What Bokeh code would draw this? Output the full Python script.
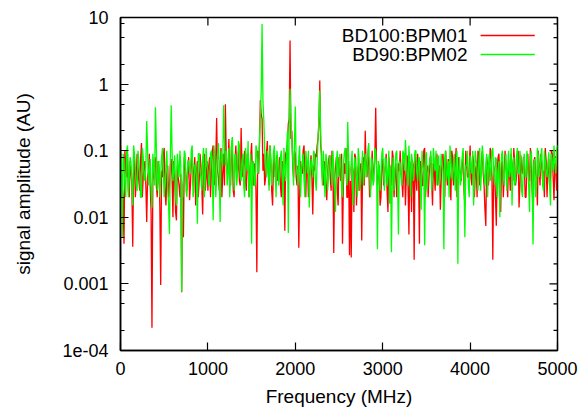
import math
from bokeh.plotting import figure
from bokeh.models import Range1d, FixedTicker, CustomJSTickFormatter, Label
from bokeh.embed import file_html
from bokeh.resources import INLINE

# ---------------- data ----------------
series_names = ["BD100:BPM01", "BD90:BPM02"]
freq_step = 10  # MHz sampling grid
freq = [i * freq_step for i in range(501)]  # 0 .. 5000 MHz

# samples at 0, 20, 40, ... 5000 MHz
bpm01_a = [
    0.12, 0.03, 0.004, 0.06, 0.09, 0.02, 0.05, 0.0036, 0.08, 0.035,
    0.06, 0.025, 0.13, 0.04, 0.07, 0.0085, 0.05, 0.03, 0.00022, 0.045,
    0.08, 0.02, 0.055, 0.00096, 0.04, 0.11, 0.015, 0.06, 0.03, 0.075,
    0.01, 0.05, 0.009, 0.04, 0.02, 0.00075, 0.005, 0.06, 0.025, 0.08,
    0.03, 0.1, 0.045, 0.015, 0.07, 0.035, 0.06, 0.011, 0.09, 0.04,
    0.025, 0.08, 0.05, 0.12, 0.03, 0.31, 0.04, 0.07, 0.02, 0.09,
    0.5, 0.045, 0.15, 0.03, 0.085, 0.02, 0.12, 0.05, 0.035, 0.22,
    0.04, 0.1, 0.025, 0.075, 0.05, 0.13, 0.03, 0.065, 0.0015, 0.045,
    0.57, 0.3, 0.09, 0.04, 0.14, 0.03, 0.07, 0.015, 0.1, 0.05,
    0.035, 0.08, 0.02, 0.06, 0.0063, 0.1, 0.25, 4.5, 0.2, 0.04,
    0.09, 0.03, 0.0035, 0.07, 0.045, 0.12, 0.02, 0.06, 0.035, 0.085,
    0.011, 0.05, 0.08, 0.15, 1.13, 0.09, 0.03, 0.06, 0.018, 0.07,
    0.04, 0.1, 0.0029, 0.055, 0.025, 0.08, 0.035, 0.004, 0.065, 0.11,
    0.02, 0.0027, 0.0025, 0.05, 0.09, 0.015, 0.06, 0.03, 0.0045, 0.08,
    0.2, 0.04, 0.07, 0.025, 0.1, 0.05, 0.44, 0.03, 0.06, 0.02,
    0.075, 0.04, 0.09, 0.012, 0.055, 0.03, 0.08, 0.045, 0.02, 0.065,
    0.1, 0.035, 0.06, 0.015, 0.085, 0.0055, 0.05, 0.07, 0.0023, 0.04,
    0.09, 0.004, 0.06, 0.03, 0.11, 0.045, 0.02, 0.075, 0.035, 0.065,
    0.025, 0.09, 0.05, 0.013, 0.07, 0.04, 0.1, 0.03, 0.06, 0.018,
    0.08, 0.045, 0.11, 0.025, 0.055, 0.035, 0.09, 0.015, 0.065, 0.04,
    0.12, 0.03, 0.07, 0.05, 0.02, 0.085, 0.04, 0.1, 0.03, 0.0074,
    0.06, 0.045, 0.09, 0.0023, 0.05, 0.0075, 0.08, 0.035, 0.065, 0.02,
    0.1, 0.04, 0.075, 0.025, 0.055, 0.11, 0.03, 0.06, 0.014, 0.085,
    0.045, 0.07, 0.02, 0.09, 0.035, 0.06, 0.012, 0.08, 0.04, 0.1,
    0.03, 0.065, 0.05, 0.11, 0.02, 0.075, 0.04, 0.09, 0.018, 0.06,
    0.1,
]
# samples at 10, 30, 50, ... 4990 MHz
bpm01_b = [
    0.05, 0.018, 0.1, 0.04, 0.025, 0.07, 0.03, 0.06, 0.02, 0.09,
    0.035, 0.075, 0.02, 0.055, 0.03, 0.04, 0.09, 0.012, 0.035, 0.06,
    0.03, 0.07, 0.015, 0.05, 0.085, 0.025, 0.045, 0.02, 0.06, 0.04,
    0.07, 0.012, 0.06, 0.03, 0.045, 0.02, 0.08, 0.04, 0.05, 0.018,
    0.065, 0.03, 0.08, 0.05, 0.02, 0.09, 0.03, 0.055, 0.025, 0.07,
    0.06, 0.02, 0.1, 0.04, 0.07, 0.05, 0.025, 0.11, 0.045, 0.03,
    0.08, 0.05, 0.035, 0.12, 0.025, 0.07, 0.04, 0.1, 0.03, 0.06,
    0.07, 0.035, 0.09, 0.02, 0.08, 0.04, 0.06, 0.025, 0.1, 0.12,
    0.35, 0.05, 0.03, 0.09, 0.045, 0.12, 0.025, 0.06, 0.04, 0.085,
    0.05, 0.03, 0.07, 0.04, 0.09, 0.13, 0.3, 0.15, 0.06, 0.1,
    0.04, 0.06, 0.025, 0.05, 0.1, 0.035, 0.07, 0.02, 0.055, 0.04,
    0.06, 0.09, 0.12, 0.25, 0.12, 0.04, 0.07, 0.03, 0.05, 0.085,
    0.025, 0.06, 0.04, 0.08, 0.015, 0.05, 0.09, 0.03, 0.045, 0.02,
    0.07, 0.035, 0.06, 0.012, 0.08, 0.04, 0.025, 0.065, 0.05, 0.03,
    0.06, 0.09, 0.02, 0.05, 0.035, 0.08, 0.06, 0.04, 0.015, 0.07,
    0.03, 0.06, 0.025, 0.08, 0.04, 0.1, 0.02, 0.065, 0.035, 0.05,
    0.045, 0.02, 0.08, 0.04, 0.03, 0.07, 0.012, 0.06, 0.09, 0.025,
    0.05, 0.07, 0.03, 0.1, 0.02, 0.06, 0.04, 0.085, 0.015, 0.05,
    0.07, 0.03, 0.06, 0.04, 0.09, 0.02, 0.055, 0.075, 0.035, 0.1,
    0.03, 0.06, 0.02, 0.08, 0.045, 0.07, 0.025, 0.1, 0.04, 0.055,
    0.04, 0.085, 0.02, 0.06, 0.1, 0.03, 0.07, 0.045, 0.013, 0.08,
    0.03, 0.11, 0.04, 0.06, 0.02, 0.05, 0.09, 0.012, 0.07, 0.04,
    0.06, 0.02, 0.05, 0.09, 0.035, 0.065, 0.04, 0.1, 0.03, 0.05,
    0.08, 0.02, 0.06, 0.04, 0.11, 0.025, 0.07, 0.045, 0.015, 0.06,
    0.09, 0.035, 0.02, 0.07, 0.05, 0.03, 0.1, 0.04, 0.065, 0.025,
]

bpm02_a = [
    0.11, 0.005, 0.07, 0.02, 0.12, 0.04, 0.065, 0.015, 0.09, 0.03,
    0.1, 0.045, 0.02, 0.08, 0.035, 0.28, 0.03, 0.075, 0.014, 0.06,
    0.45, 0.025, 0.07, 0.04, 0.11, 0.02, 0.06, 0.03, 0.0056, 0.48,
    0.035, 0.085, 0.015, 0.06, 0.1, 0.00076, 0.04, 0.09, 0.02, 0.07,
    0.045, 0.12, 0.025, 0.065, 0.008, 0.09, 0.04, 0.075, 0.02, 0.11,
    0.05, 0.03, 0.1, 0.009, 0.07, 0.04, 0.13, 0.0085, 0.08, 0.48,
    0.06, 0.03, 0.11, 0.045, 0.16, 0.025, 0.08, 0.05, 0.12, 0.035,
    0.09, 0.02, 0.065, 0.14, 0.04, 0.004, 0.07, 0.03, 0.1, 0.05,
    0.3, 8.0, 0.28, 0.06, 0.1, 0.025, 0.075, 0.045, 0.12, 0.02,
    0.07, 0.04, 0.1, 0.015, 0.06, 0.09, 0.0058, 0.85, 0.15, 0.03,
    0.46, 0.05, 0.08, 0.02, 0.065, 0.035, 0.1, 0.045, 0.014, 0.075,
    0.04, 0.09, 0.025, 0.15, 0.8, 0.06, 0.1, 0.02, 0.07, 0.04,
    0.085, 0.03, 0.06, 0.012, 0.1, 0.045, 0.07, 0.02, 0.09, 0.05,
    0.27, 0.035, 0.065, 0.015, 0.08, 0.04, 0.11, 0.025, 0.06, 0.03,
    0.09, 0.05, 0.13, 0.02, 0.07, 0.035, 0.1, 0.0033, 0.06, 0.04,
    0.11, 0.025, 0.075, 0.045, 0.016, 0.003, 0.08, 0.05, 0.1, 0.0055,
    0.065, 0.03, 0.09, 0.145, 0.04, 0.12, 0.02, 0.07, 0.05, 0.1,
    0.035, 0.08, 0.013, 0.06, 0.0038, 0.095, 0.045, 0.07, 0.025, 0.11,
    0.05, 0.03, 0.085, 0.04, 0.065, 0.0033, 0.1, 0.045, 0.02, 0.075,
    0.035, 0.09, 0.055, 0.002, 0.08, 0.04, 0.11, 0.005, 0.06, 0.03,
    0.085, 0.045, 0.015, 0.1, 0.05, 0.07, 0.025, 0.12, 0.04, 0.065,
    0.02, 0.09, 0.05, 0.11, 0.03, 0.075, 0.045, 0.01, 0.085, 0.04,
    0.065, 0.025, 0.1, 0.05, 0.015, 0.08, 0.035, 0.11, 0.045, 0.07,
    0.02, 0.09, 0.04, 0.06, 0.012, 0.1, 0.0039, 0.075, 0.03, 0.085,
    0.05, 0.11, 0.025, 0.07, 0.04, 0.095, 0.015, 0.065, 0.12, 0.045,
    0.12,
]
bpm02_b = [
    0.06, 0.09, 0.03, 0.1, 0.02, 0.08, 0.035, 0.12, 0.05, 0.025,
    0.07, 0.02, 0.11, 0.04, 0.06, 0.1, 0.05, 0.025, 0.09, 0.03,
    0.12, 0.04, 0.02, 0.08, 0.05, 0.035, 0.1, 0.015, 0.07, 0.1,
    0.05, 0.02, 0.09, 0.04, 0.06, 0.03, 0.1, 0.025, 0.07, 0.05,
    0.1, 0.02, 0.06, 0.035, 0.09, 0.05, 0.025, 0.11, 0.04, 0.06,
    0.03, 0.09, 0.05, 0.12, 0.02, 0.08, 0.04, 0.1, 0.06, 0.15,
    0.1, 0.045, 0.02, 0.13, 0.05, 0.09, 0.03, 0.14, 0.04, 0.07,
    0.03, 0.11, 0.05, 0.02, 0.09, 0.06, 0.03, 0.12, 0.045, 0.15,
    0.8, 0.55, 0.1, 0.04, 0.07, 0.12, 0.03, 0.09, 0.05, 0.1,
    0.03, 0.08, 0.05, 0.11, 0.035, 0.2, 0.25, 0.3, 0.08, 0.12,
    0.06, 0.03, 0.12, 0.05, 0.09, 0.02, 0.07, 0.1, 0.04, 0.06,
    0.1, 0.035, 0.07, 0.3, 0.2, 0.03, 0.05, 0.09, 0.025, 0.08,
    0.05, 0.1, 0.03, 0.07, 0.04, 0.09, 0.025, 0.06, 0.11, 0.03,
    0.08, 0.05, 0.1, 0.04, 0.06, 0.02, 0.075, 0.045, 0.1, 0.05,
    0.04, 0.1, 0.05, 0.08, 0.03, 0.11, 0.05, 0.07, 0.025, 0.09,
    0.05, 0.08, 0.03, 0.1, 0.06, 0.04, 0.025, 0.09, 0.035, 0.07,
    0.04, 0.1, 0.05, 0.08, 0.03, 0.06, 0.09, 0.035, 0.1, 0.05,
    0.07, 0.03, 0.1, 0.05, 0.08, 0.025, 0.06, 0.1, 0.04, 0.07,
    0.1, 0.06, 0.03, 0.09, 0.05, 0.08, 0.035, 0.07, 0.12, 0.04,
    0.07, 0.025, 0.1, 0.05, 0.03, 0.08, 0.045, 0.06, 0.1, 0.02,
    0.06, 0.1, 0.04, 0.07, 0.025, 0.11, 0.05, 0.08, 0.03, 0.09,
    0.06, 0.035, 0.1, 0.045, 0.08, 0.02, 0.07, 0.05, 0.1, 0.03,
    0.09, 0.05, 0.04, 0.11, 0.06, 0.03, 0.08, 0.045, 0.1, 0.025,
    0.07, 0.04, 0.1, 0.03, 0.08, 0.05, 0.06, 0.02, 0.11, 0.04,
    0.08, 0.03, 0.1, 0.05, 0.065, 0.03, 0.09, 0.05, 0.07, 0.1,
]

def merge(a, b):
    out = []
    for u, v in zip(a, b):
        out += [u, v]
    return out + [a[-1]]

bpm01 = merge(bpm01_a, bpm01_b)
bpm02 = merge(bpm02_a, bpm02_b)

x_ticks = [0, 1000, 2000, 3000, 4000, 5000]
y_ticks = [1e-4, 1e-3, 1e-2, 1e-1, 1, 10]
y_tick_labels = ["1e-04", "0.001", "0.01", "0.1", "1", "10"]
y_minor_mult = [2, 5, 8]

x_label = "Frequency (MHz)"
y_label = "signal amplitude (AU)"

# ---------------- style ----------------
FONT = "Liberation Sans"
TICK_FS = "18px"
LABEL_FS = "19px"
COL1 = "#ff0000"
COL2 = "#00ff00"
X0, X1 = 0, 5000
Y0, Y1 = 1e-4, 10

y_minor = [m * t for t in y_ticks[:-1] for m in y_minor_mult]

p = figure(width=581, height=410,
           x_range=Range1d(X0, X1), y_range=Range1d(Y0, Y1),
           y_axis_type="log", output_backend="svg", toolbar_location=None,
           min_border_left=120, min_border_right=24,
           min_border_top=17, min_border_bottom=60)
p.grid.visible = False
p.outline_line_color = "black"
p.outline_line_width = 1.5
p.background_fill_color = "white"
p.border_fill_color = "white"

yfmt = CustomJSTickFormatter(args=dict(tvals=y_ticks, tlabels=y_tick_labels), code="""
let best = 0, bd = 1e9;
for (let k = 0; k < tvals.length; k++) {
  const d = Math.abs(Math.log10(tvals[k]) - Math.log10(tick));
  if (d < bd) { bd = d; best = k; }
}
return tlabels[best];
""")

def style_axis(ax):
    ax.axis_line_color = "black"
    ax.axis_line_width = 1.5
    ax.major_tick_line_color = "black"
    ax.minor_tick_line_color = "black"
    ax.major_tick_line_width = 1.2
    ax.minor_tick_line_width = 1.2
    ax.major_tick_in = 8
    ax.major_tick_out = 0
    ax.minor_tick_in = 4
    ax.minor_tick_out = 0
    ax.major_label_text_font = FONT
    ax.major_label_text_font_size = TICK_FS
    ax.major_label_text_color = "black"
    ax.axis_label_text_font = FONT
    ax.axis_label_text_font_size = LABEL_FS
    ax.axis_label_text_font_style = "normal"
    ax.axis_label_text_color = "black"

xa = p.xaxis[0]
xa.ticker = FixedTicker(ticks=x_ticks, minor_ticks=[])
xa.axis_label = x_label
style_axis(xa)
xa.major_label_standoff = 11
xa.axis_label_standoff = 8

ya = p.yaxis[0]
ya.ticker = FixedTicker(ticks=y_ticks, minor_ticks=y_minor)
ya.formatter = yfmt
ya.axis_label = y_label
style_axis(ya)
ya.major_label_standoff = 12
ya.axis_label_standoff = 25

# mirrored inward ticks on the top and right edges
p.ray(x=[X1] * len(y_ticks), y=y_ticks, length=8, length_units="screen",
      angle=math.pi, line_color="black", line_width=1.2)
p.ray(x=[X1] * len(y_minor), y=y_minor, length=4, length_units="screen",
      angle=math.pi, line_color="black", line_width=1.2)
p.ray(x=x_ticks, y=[Y1] * len(x_ticks), length=8, length_units="screen",
      angle=-math.pi / 2, line_color="black", line_width=1.2)

p.line(freq, bpm01, line_color=COL1, line_width=1.3)
p.line(freq, bpm02, line_color=COL2, line_width=1.3)

# gnuplot-style key: text right-aligned, sample line to its right
KEY_TEXT_X = 3970
KEY_LINE_X = [4120, 4740]
KEY_Y = [5.37, 2.78]
for name, col, ky in zip(series_names, [COL1, COL2], KEY_Y):
    p.add_layout(Label(x=KEY_TEXT_X, y=ky, text=name, text_align="right",
                       text_baseline="middle", text_font=FONT,
                       text_font_size=LABEL_FS, text_color="black"))
    p.line(KEY_LINE_X, [ky, ky], line_color=col, line_width=1.5)

open("out.html", "w").write(file_html(p, INLINE))
